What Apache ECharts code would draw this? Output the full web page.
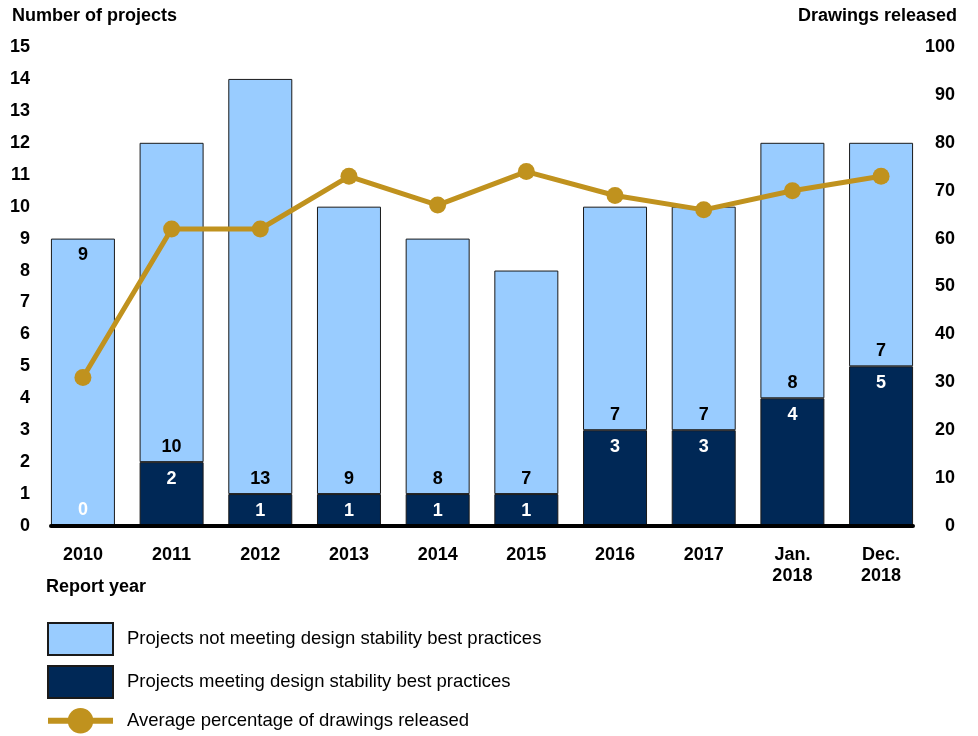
<!DOCTYPE html>
<html>
<head>
<meta charset="utf-8">
<script src="https://cdn.jsdelivr.net/npm/echarts@6/dist/echarts.min.js"></script>
<style>html,body{margin:0;padding:0;background:#fff}#c{width:978px;height:736px}</style>
</head>
<body>
<div id="c"></div>
<script>
var categories = ['2010', '2011', '2012', '2013', '2014', '2015', '2016', '2017', 'Jan.\n2018', 'Dec.\n2018'];
var meeting = [0, 2, 1, 1, 1, 1, 3, 3, 4, 5];
var notMeeting = [9, 10, 13, 9, 8, 7, 7, 7, 8, 7];
var drawingsReleased = [31, 62, 62, 73, 67, 74, 69, 66, 70, 73];
var leftTicks = [0, 15, 1];
var rightTicks = [0, 100, 10];

var FONT = '"Liberation Sans", Arial, sans-serif';
var LIGHT = '#99ccff', DARK = '#002856', GOLD = '#c0921e';

var chart = echarts.init(document.getElementById('c'), null, {renderer: 'canvas'});

// data as [value, categoryIndex] so that the stacked dimension is the value
var meetingData = meeting.map(function (v, i) {
  var d = {value: [v, i]};
  if (v === 0) d.label = {position: 'top', distance: 6};
  return d;
});
var notMeetingData = notMeeting.map(function (v, i) {
  var d = {value: [v, i]};
  if (meeting[i] === 0) d.label = {position: 'insideTop', distance: 7};
  return d;
});
var lineData = drawingsReleased.map(function (v, i) { return [v, i]; });

var labelFmt = function (p) { return String(p.value[0]); };

chart.setOption({
  animation: false,
  textStyle: {fontFamily: FONT},
  title: [
    {text: 'Number of projects', left: 12, top: 7, padding: 0,
     textStyle: {fontFamily: FONT, fontSize: 18, fontWeight: 'bold', color: '#000'}},
    {text: 'Drawings released', right: 21, top: 7, padding: 0,
     textStyle: {fontFamily: FONT, fontSize: 18, fontWeight: 'bold', color: '#000'}},
    {text: 'Report year', left: 46, top: 578, padding: 0,
     textStyle: {fontFamily: FONT, fontSize: 18, fontWeight: 'bold', color: '#000'}}
  ],
  legend: {
    orient: 'vertical', left: 45, top: 622, padding: 0,
    itemWidth: 65, itemHeight: 32, itemGap: 9,
    textStyle: {fontFamily: FONT, fontSize: 18.5, color: '#000', padding: [0, 0, 0, 9]},
    data: [
      {name: 'Projects not meeting design stability best practices', icon: 'rect'},
      {name: 'Projects meeting design stability best practices', icon: 'rect'},
      {name: 'Average percentage of drawings released', lineStyle: {width: 6, color: GOLD}}
    ]
  },
  grid: {left: 51, right: 65, top: 47, bottom: 210, containLabel: false},
  xAxis: {
    type: 'value', min: -0.36, max: 9.36, z: 10,
    axisLine: {show: true, onZero: false, lineStyle: {color: '#000', width: 4}},
    axisTick: {show: false},
    splitLine: {show: false},
    axisLabel: {
      customValues: categories.map(function (c, i) { return i; }),
      formatter: function (v) { return categories[Math.round(v)]; },
      fontFamily: FONT, fontSize: 18, fontWeight: 'bold', color: '#000',
      lineHeight: 21, margin: 19
    }
  },
  yAxis: [
    {type: 'value', min: leftTicks[0], max: leftTicks[1], interval: leftTicks[2],
     axisLine: {show: false}, axisTick: {show: false}, splitLine: {show: false},
     axisLabel: {fontFamily: FONT, fontSize: 18, fontWeight: 'bold', color: '#000', margin: 21}},
    {type: 'value', min: rightTicks[0], max: rightTicks[1], interval: rightTicks[2], position: 'right',
     axisLine: {show: false}, axisTick: {show: false}, splitLine: {show: false},
     axisLabel: {fontFamily: FONT, fontSize: 18, fontWeight: 'bold', color: '#000', margin: 42, align: 'right'}}
  ],
  series: [
    {
      name: 'Projects meeting design stability best practices',
      type: 'bar', stack: 'p', barWidth: 64, yAxisIndex: 0,
      encode: {x: 1, y: 0},
      itemStyle: {color: DARK, borderColor: '#1a1a1a', borderWidth: 1},
      label: {show: true, position: 'insideTop', distance: 8, color: '#fff', formatter: labelFmt,
              fontFamily: FONT, fontSize: 18, fontWeight: 'bold'},
      data: meetingData, z: 2
    },
    {
      name: 'Projects not meeting design stability best practices',
      type: 'bar', stack: 'p', barWidth: 64, yAxisIndex: 0,
      encode: {x: 1, y: 0},
      itemStyle: {color: LIGHT, borderColor: '#1a1a1a', borderWidth: 1},
      label: {show: true, position: 'insideBottom', distance: 6, color: '#000', formatter: labelFmt,
              fontFamily: FONT, fontSize: 18, fontWeight: 'bold'},
      data: notMeetingData, z: 2
    },
    {
      name: 'Average percentage of drawings released',
      type: 'line', yAxisIndex: 1,
      encode: {x: 1, y: 0},
      symbol: 'circle', symbolSize: 17,
      lineStyle: {color: GOLD, width: 5},
      itemStyle: {color: GOLD},
      data: lineData, z: 5
    }
  ]
});
</script>
</body>
</html>
